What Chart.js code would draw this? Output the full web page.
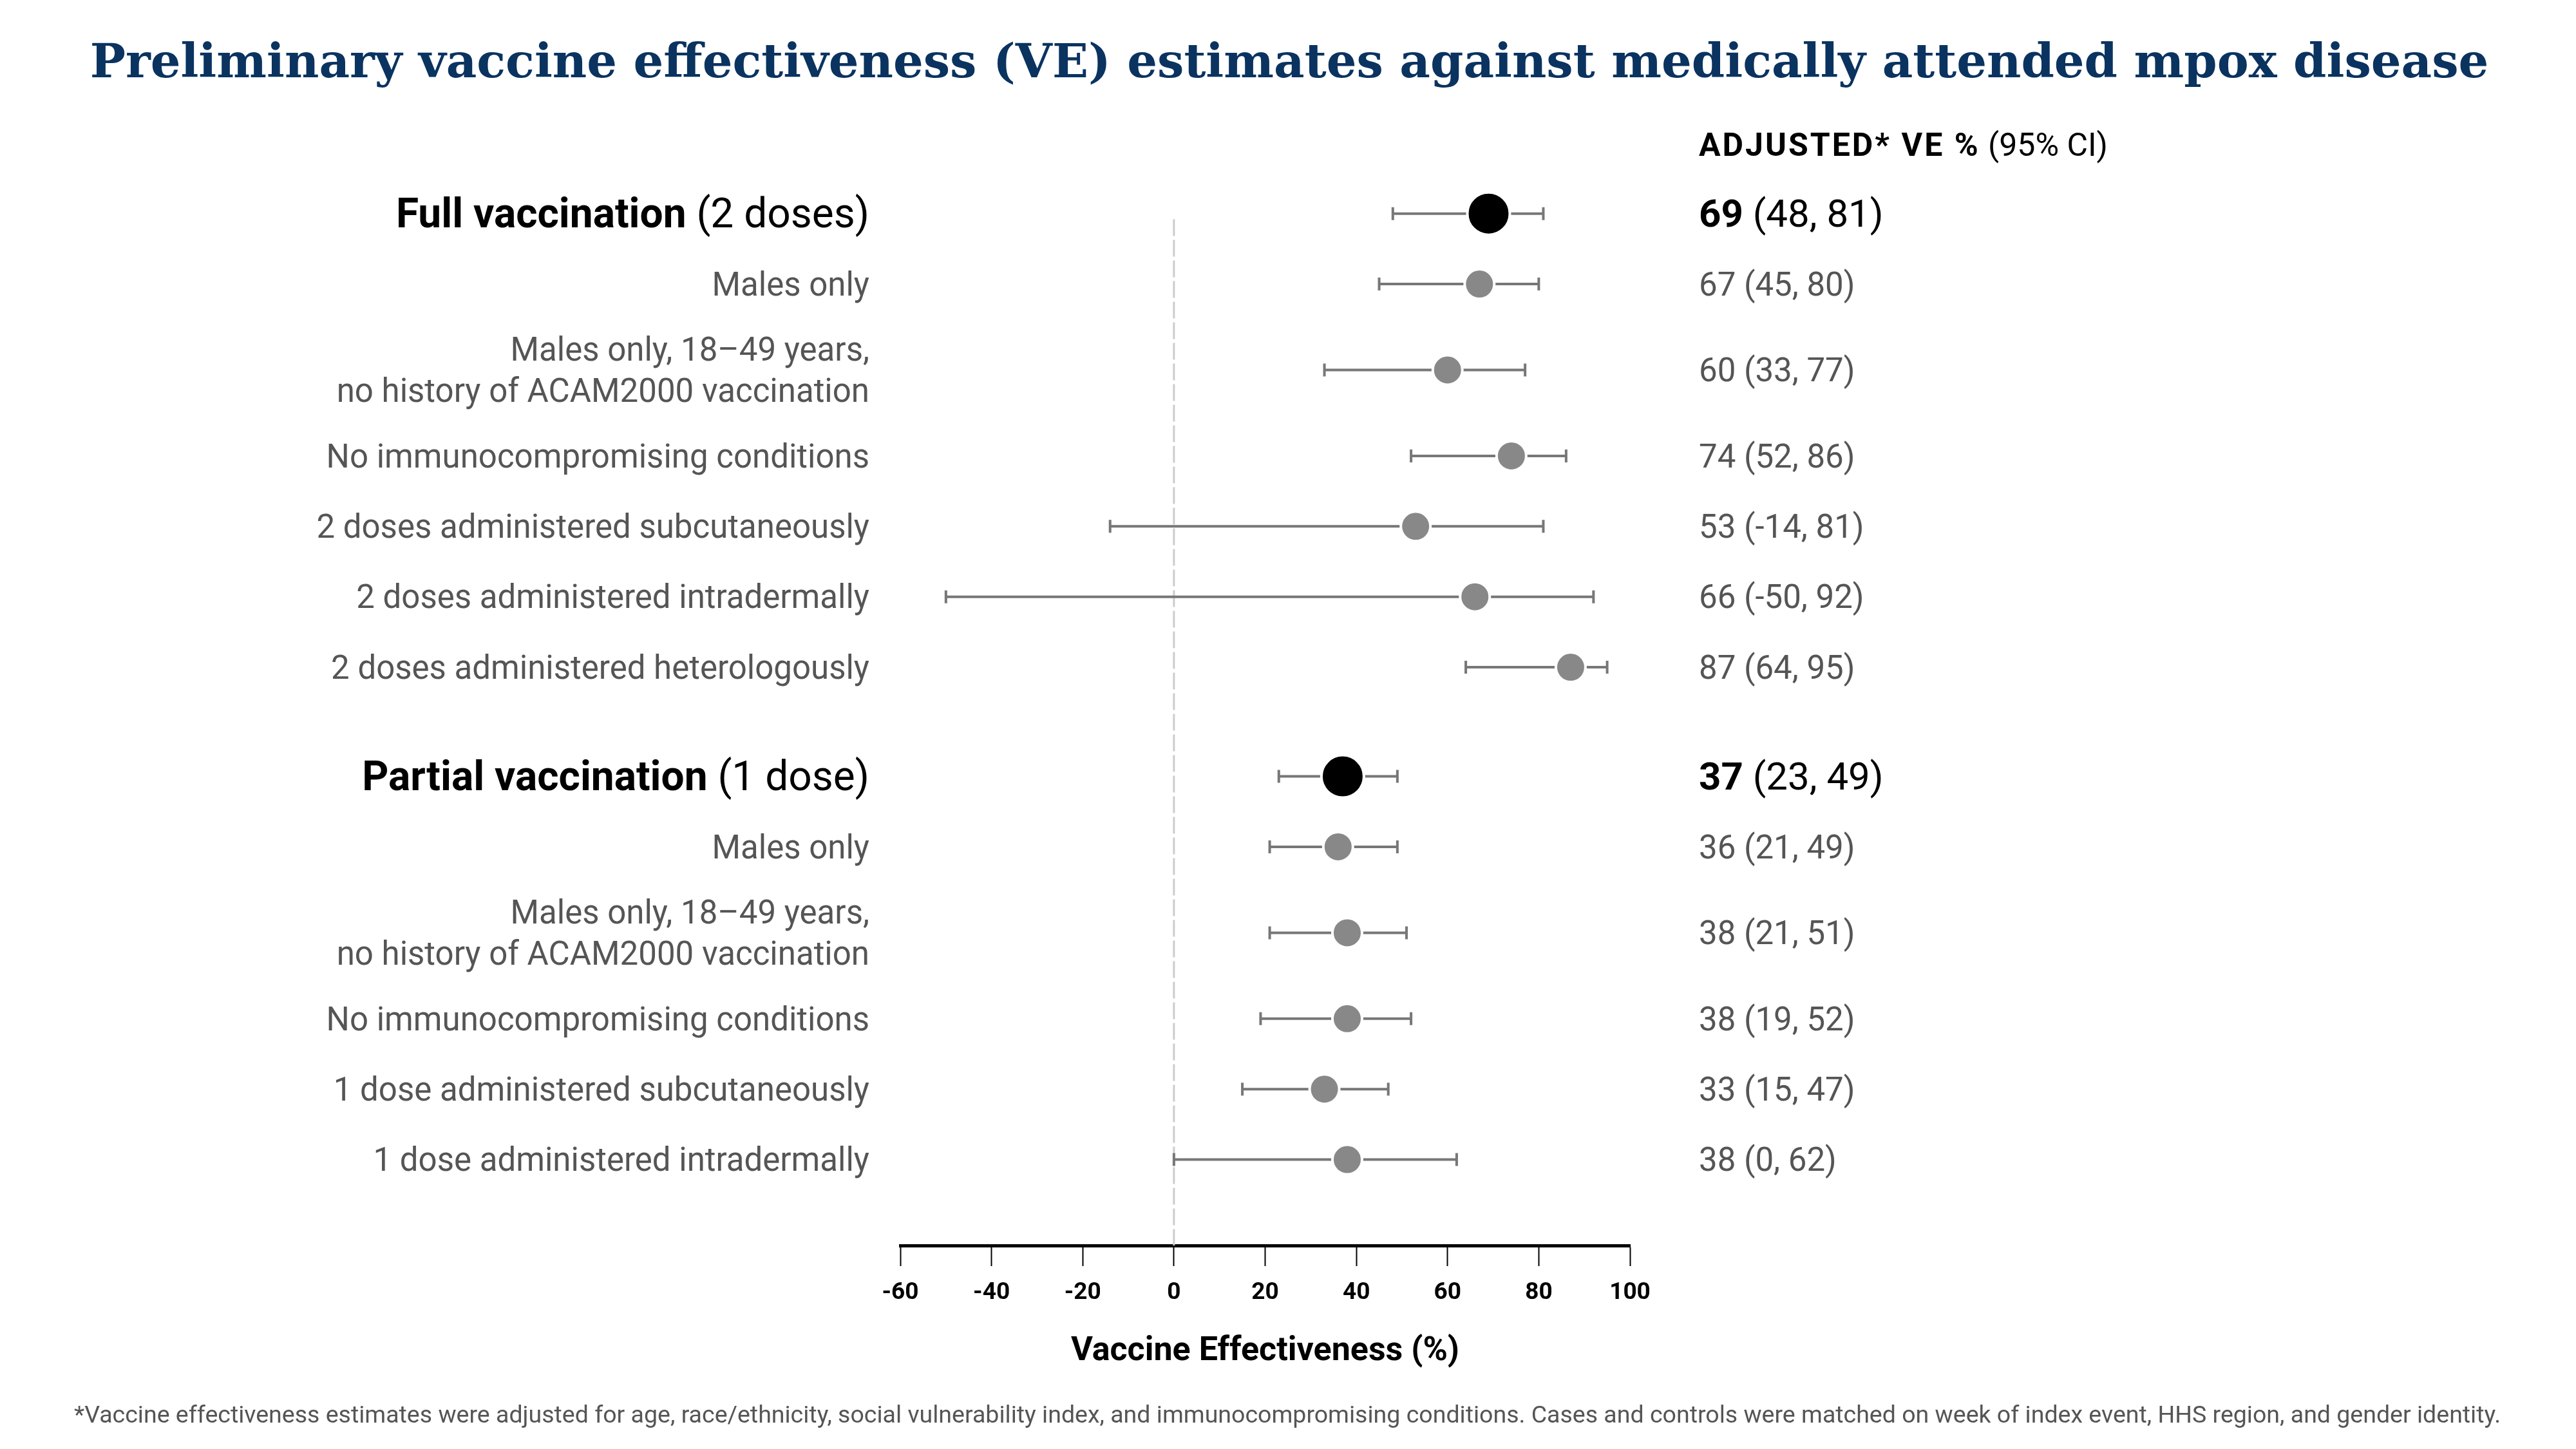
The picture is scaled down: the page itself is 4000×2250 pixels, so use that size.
<!DOCTYPE html>
<html>
<head>
<meta charset="utf-8">
<script src="https://cdn.jsdelivr.net/npm/chart.js@4.4.1/dist/chart.umd.min.js"></script>
<style>
html, body { margin: 0; padding: 0; background: #fff; }
canvas { display: block; }
</style>
</head>
<body>
<canvas id="veChart" width="4000" height="2250"></canvas>
<script>
// rows, top to bottom
const rowLabels = [
  'Full vaccination (2 doses)',
  'Males only',
  'Males only, 18–49 years,\nno history of ACAM2000 vaccination',
  'No immunocompromising conditions',
  '2 doses administered subcutaneously',
  '2 doses administered intradermally',
  '2 doses administered heterologously',
  'Partial vaccination (1 dose)',
  'Males only',
  'Males only, 18–49 years,\nno history of ACAM2000 vaccination',
  'No immunocompromising conditions',
  '1 dose administered subcutaneously',
  '1 dose administered intradermally'
];
const rowGroup = [0, 0, 0, 0, 0, 0, 0, 1, 1, 1, 1, 1, 1];
const isOverall = [true, false, false, false, false, false, false, true, false, false, false, false, false];
const veEstimate = [69, 67, 60, 74, 53, 66, 87, 37, 36, 38, 38, 33, 38];
const ciLower = [48, 45, 33, 52, -14, -50, 64, 23, 21, 21, 19, 15, 0];
const ciUpper = [81, 80, 77, 86, 81, 92, 95, 49, 49, 51, 52, 47, 62];
const xTickValues = [-60, -40, -20, 0, 20, 40, 60, 80, 100];

const titleText = 'Preliminary vaccine effectiveness (VE) estimates against medically attended mpox disease';
const footnote = '*Vaccine effectiveness estimates were adjusted for age, race/ethnicity, social vulnerability index, and immunocompromising conditions. Cases and controls were matched on week of index event, HHS region, and gender identity.';

// row spacing: a bit more room around two-line labels, and a gap between the groups
const rowPos = [];
rowLabels.forEach((lab, i) => {
  if (i === 0) { rowPos.push(0); return; }
  const extra = (lab.split('\n').length - 1) + (rowLabels[i - 1].split('\n').length - 1);
  const gap = rowGroup[i] !== rowGroup[i - 1] ? 0.55 : 0;
  rowPos.push(rowPos[i - 1] + 1 + 0.22 * extra + gap);
});

const SANS = 'Roboto, "Noto Sans", sans-serif';
const TXT_DY = 5; // middle baseline sits a bit high

function fitFont(ctx, text, weight, family, start, maxW) {
  let size = start;
  ctx.font = weight + ' ' + size + 'px ' + family;
  while (ctx.measureText(text).width > maxW && size > 10) {
    size -= 0.5;
    ctx.font = weight + ' ' + size + 'px ' + family;
  }
  return size;
}

// draws "bold part" + "regular part" on one line
function drawMixed(ctx, boldTxt, regTxt, x, y, size, color, align) {
  ctx.font = 'bold ' + size + 'px ' + SANS;
  const wb = ctx.measureText(boldTxt).width;
  ctx.font = size + 'px ' + SANS;
  const wr = ctx.measureText(regTxt).width;
  let start = align === 'right' ? x - wb - wr : x;
  ctx.textAlign = 'left';
  ctx.fillStyle = color;
  ctx.font = 'bold ' + size + 'px ' + SANS;
  ctx.fillText(boldTxt, start, y);
  ctx.font = size + 'px ' + SANS;
  ctx.fillText(regTxt, start + wb, y);
}

const errorBars = {
  id: 'errorBars',
  beforeDatasetsDraw(chart) {
    const { ctx, scales: { x, y }, chartArea } = chart;
    ctx.save();
    // reference line at 0
    const x0 = x.getPixelForValue(0);
    ctx.strokeStyle = '#cccccc';
    ctx.lineWidth = 3;
    ctx.setLineDash([26, 6]);
    ctx.beginPath();
    ctx.moveTo(x0, y.getPixelForValue(0.08));
    ctx.lineTo(x0, chartArea.bottom);
    ctx.stroke();
    ctx.setLineDash([]);

    ctx.strokeStyle = '#777777';
    ctx.lineWidth = 4;
    for (let i = 0; i < veEstimate.length; i++) {
      const py = y.getPixelForValue(rowPos[i]);
      const xl = x.getPixelForValue(ciLower[i]);
      const xh = x.getPixelForValue(ciUpper[i]);
      ctx.beginPath();
      ctx.moveTo(xl, py); ctx.lineTo(xh, py);
      ctx.moveTo(xl, py - 10); ctx.lineTo(xl, py + 10);
      ctx.moveTo(xh, py - 10); ctx.lineTo(xh, py + 10);
      ctx.stroke();
    }
    ctx.restore();
  }
};

const textLayer = {
  id: 'textLayer',
  afterDraw(chart) {
    const { ctx, scales: { y } } = chart;
    ctx.save();
    ctx.textBaseline = 'middle';

    // title
    const ts = fitFont(ctx, titleText, 'bold', '"DejaVu Serif", serif', 84, 3725);
    ctx.font = 'bold ' + ts + 'px "DejaVu Serif", serif';
    ctx.fillStyle = '#0a3360';
    ctx.textAlign = 'center';
    ctx.textBaseline = 'alphabetic';
    ctx.fillText(titleText, 2002, 120);
    ctx.textBaseline = 'middle';

    // column header
    ctx.font = 'bold 50px ' + SANS;
    ctx.letterSpacing = '3px';
    const hb = 'ADJUSTED* VE %';
    const wb = ctx.measureText(hb).width;
    ctx.fillStyle = '#000';
    ctx.textAlign = 'left';
    ctx.fillText(hb, 2638, 224 + TXT_DY);
    ctx.letterSpacing = '0px';
    ctx.font = '50px ' + SANS;
    ctx.fillText(' (95% CI)', 2638 + wb, 224 + TXT_DY);

    for (let i = 0; i < rowLabels.length; i++) {
      const py = y.getPixelForValue(rowPos[i]) + TXT_DY;
      const ci = ' (' + ciLower[i] + ', ' + ciUpper[i] + ')';
      if (isOverall[i]) {
        const cut = rowLabels[i].indexOf(' (');
        drawMixed(ctx, rowLabels[i].slice(0, cut), rowLabels[i].slice(cut), 1350, py, 64, '#000', 'right');
        drawMixed(ctx, String(veEstimate[i]), ci, 2638, py, 60, '#000', 'left');
      } else {
        const lines = rowLabels[i].split('\n');
        ctx.font = '51px ' + SANS;
        ctx.fillStyle = '#555555';
        ctx.textAlign = 'right';
        lines.forEach((ln, k) => {
          ctx.fillText(ln, 1350, py + (k - (lines.length - 1) / 2) * 64);
        });
        ctx.textAlign = 'left';
        ctx.fillText(veEstimate[i] + ci, 2638, py);
      }
    }

    // footnote
    const fs = fitFont(ctx, footnote, 'normal', SANS, 40, 3770);
    ctx.font = fs + 'px ' + SANS;
    ctx.fillStyle = '#555555';
    ctx.textAlign = 'left';
    ctx.fillText(footnote, 115, 2200);
    ctx.restore();
  }
};

new Chart(document.getElementById('veChart'), {
  type: 'scatter',
  data: {
    datasets: [{
      data: veEstimate.map((v, i) => ({ x: v, y: rowPos[i] })),
      clip: false,
      showLine: false,
      pointRadius: ctx => isOverall[ctx.dataIndex] ? 33 : 23,
      pointBackgroundColor: ctx => isOverall[ctx.dataIndex] ? '#000000' : '#888888',
      pointBorderColor: '#ffffff',
      pointBorderWidth: 4
    }]
  },
  options: {
    responsive: false,
    devicePixelRatio: 1,
    animation: false,
    layout: { padding: { left: 1398, right: 1469, top: 277, bottom: 116 } },
    plugins: { legend: { display: false }, tooltip: { enabled: false } },
    scales: {
      x: {
        type: 'linear',
        min: -60,
        max: 100,
        afterBuildTicks: scale => { scale.ticks = xTickValues.map(v => ({ value: v })); },
        afterFit: scale => { scale.height = 200; },
        ticks: {
          autoSkip: false,
          maxRotation: 0,
          padding: 20,
          color: '#000',
          font: { family: SANS, weight: 'bold', size: 37 }
        },
        grid: { drawOnChartArea: false, drawTicks: true, tickLength: 32, tickWidth: 2, tickColor: '#000' },
        border: { display: true, width: 5, color: '#000' },
        title: {
          display: true,
          text: 'Vaccine Effectiveness (%)',
          color: '#000',
          font: { family: SANS, weight: 'bold', size: 52 },
          padding: { top: 18, bottom: 4 }
        }
      },
      y: {
        type: 'linear',
        reverse: true,
        min: -0.5,
        max: 14.65,
        display: false
      }
    }
  },
  plugins: [errorBars, textLayer]
});
</script>
</body>
</html>
